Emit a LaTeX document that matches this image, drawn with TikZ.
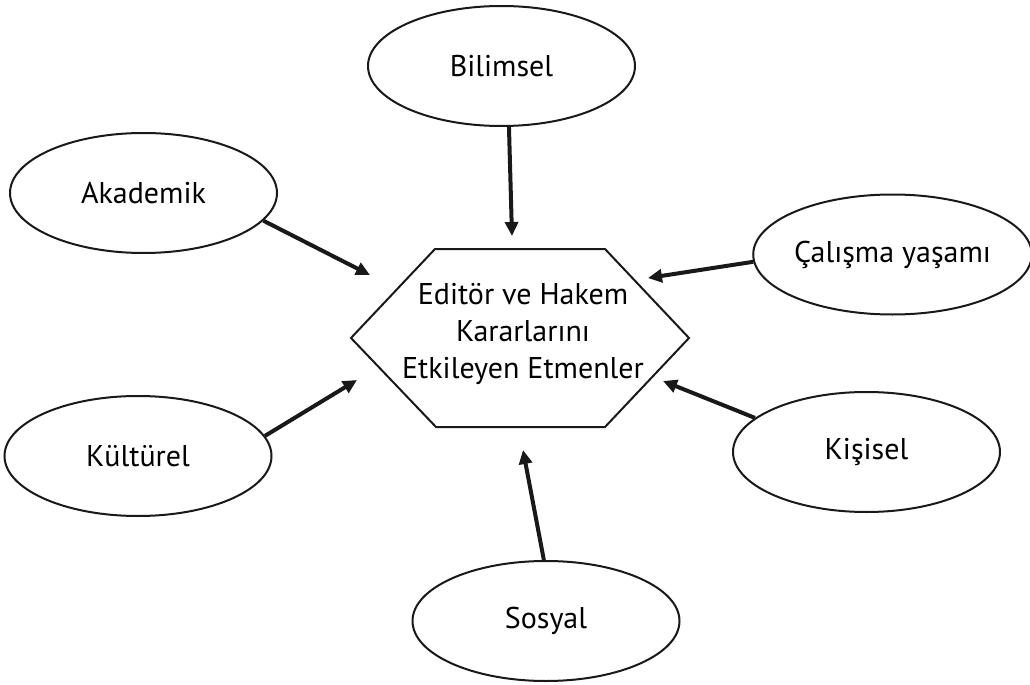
\documentclass[tikz,border=0pt]{standalone}
\usepackage{fontspec}
\setmainfont{PT Sans}
\usetikzlibrary{shapes.geometric,arrows.meta}
\tikzset{
  bubble/.style={ellipse, draw=black!90, line width=1pt, inner sep=0pt,
    minimum width=133.5pt, minimum height=60pt, font=\fontsize{15}{18}\selectfont},
  hexline/.style={draw=black!90, line width=1pt, line join=miter},
  arr/.style={line width=2pt, draw=black!90, -{Triangle[length=7pt,width=6.5pt]}},
  centertext/.style={align=center, font=\fontsize{15}{18.5}\selectfont, inner sep=0pt}
}
\begin{document}
\begin{tikzpicture}[x=0.5pt,y=-0.5pt]
\useasboundingbox (0,0) rectangle (1030,685);
% hexagon
\draw[hexline] (351,338) -- (435,249) -- (605,249) -- (689,338) -- (605,427) -- (436,427) -- cycle;
\node[centertext] (hex) at (523,334) {Editör ve Hakem\\Kararlarını\\Etkileyen Etmenler};
% ellipses
\node[bubble] (bil) at (501.5,66) {Bilimsel};
\node[bubble] (aka) at (143.5,193) {Akademik};
\node[bubble] (cal) at (892.5,254.5) {Çalışma yaşamı};
\node[bubble] (kul) at (138,456) {Kültürel};
\node[bubble] (kis) at (866.5,452) {Kişisel};
\node[bubble] (sos) at (546,621) {Sosyal};
% arrow tips
\coordinate (tBil) at (512,236);
\coordinate (tAka) at (370,275);
\coordinate (tCal) at (648,278);
\coordinate (tKul) at (357,380);
\coordinate (tKis) at (663,381);
\coordinate (tSos) at (523,450);
% arrows
\draw[arr] (bil.-83.8) -- (tBil);
\draw[arr] (aka.-13.3) -- (tAka);
\draw[arr] (cal.-177.2) -- (tCal);
\draw[arr] (kul.9.4) -- (tKul);
\draw[arr] (kis.163.3) -- (tKis);
\draw[arr] (sos.92.9) -- (tSos);
\end{tikzpicture}
\end{document}
